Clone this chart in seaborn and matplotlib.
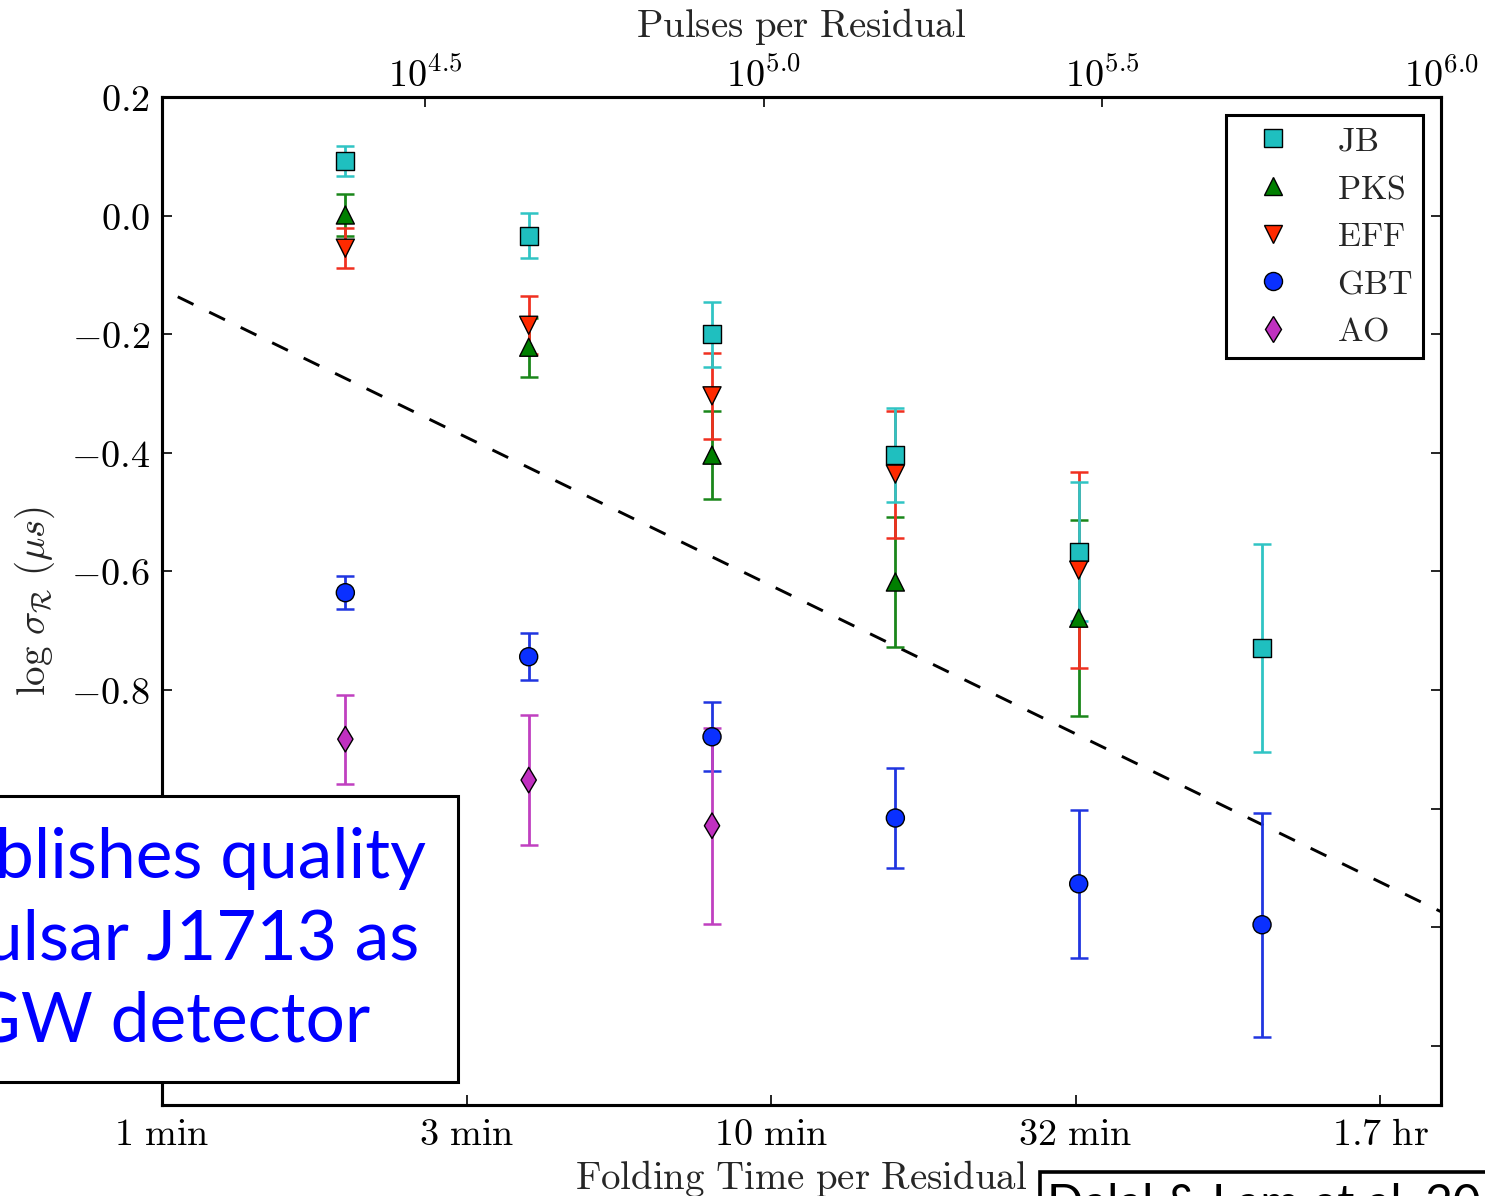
import numpy as np
import pandas as pd
import matplotlib
matplotlib.use("Agg")
import matplotlib.pyplot as plt
import seaborn as sns
from matplotlib.patches import Rectangle
from matplotlib.lines import Line2D
from matplotlib.ticker import FixedLocator, FuncFormatter, NullLocator

# Folding time per residual (minutes)
fold_min = [2, 4, 8, 16, 32, 64]

# log10 of residual rms (microseconds) and 1-sigma uncertainties per telescope
jb_val = [0.092, -0.034, -0.200, -0.404, -0.567, -0.729]
jb_err = [0.026, 0.038, 0.055, 0.079, 0.117, 0.175]
pks_val = [0.001, -0.222, -0.404, -0.618, -0.679]
pks_err = [0.036, 0.050, 0.074, 0.110, 0.165]
eff_val = [-0.055, -0.185, -0.304, -0.436, -0.598]
eff_err = [0.034, 0.049, 0.072, 0.107, 0.165]
gbt_val = [-0.636, -0.744, -0.879, -1.016, -1.127, -1.196]
gbt_err = [0.028, 0.040, 0.058, 0.084, 0.125, 0.189]
ao_val = [-0.883, -0.952, -1.029]
ao_err = [0.075, 0.110, 0.165]

stations = ["JB", "PKS", "EFF", "GBT", "AO"]
station_values = {"JB": (jb_val, jb_err), "PKS": (pks_val, pks_err),
                  "EFF": (eff_val, eff_err), "GBT": (gbt_val, gbt_err),
                  "AO": (ao_val, ao_err)}

# white-noise expectation: slope -1/2 in log-log
ref_intercept = -0.124
ref_slope = -0.5

x_tick_min = [1, 10 ** 0.5, 10, 10 ** 1.5, 100]
x_tick_labels = ["1 min", "3 min", "10 min", "32 min", "1.7 hr"]
pulse_ticks = [10 ** 4.5, 10 ** 5.0, 10 ** 5.5, 10 ** 6.0]
pulse_tick_labels = ["4.5", "5.0", "5.5", "6.0"]
y_ticks = [-1.4, -1.2, -1.0, -0.8, -0.6, -0.4, -0.2, 0.0, 0.2]

colors = {"JB": "#1fbfbf", "PKS": "#007f00", "EFF": "#ff2a00",
          "GBT": "#0a30ff", "AO": "#c030c0"}
err_colors = {"JB": "#30c4c4", "PKS": "#1a861a", "EFF": "#f03020",
              "GBT": "#2035e0", "AO": "#c040c0"}
markers = {"JB": "s", "PKS": "^", "EFF": "v", "GBT": "o", "AO": "d"}

rows = []
for name in stations:
    vals, errs = station_values[name]
    for t, v, e in zip(fold_min, vals, errs):
        rows.append({"station": name, "minutes": t, "logsig": v, "err": e})
df = pd.DataFrame(rows)

sns.set_style("ticks")
plt.rcParams.update({
    "font.family": ["DejaVu Serif"],
    "mathtext.fontset": "cm",
    "axes.linewidth": 2.2,
    "axes.edgecolor": "black",
})

W, H = 1485, 1196
fig = plt.figure(figsize=(W / 100, H / 100), dpi=100)
fig.patch.set_facecolor("white")
ax = fig.add_axes([162 / W, 1 - 1105 / H, 1279 / W, 1008 / H])
ax.set_xscale("log")

# error bars, drawn so JB sits over PKS/EFF and AO over GBT
for name in ["PKS", "EFF", "JB", "GBT", "AO"]:
    d = df[df.station == name]
    ax.errorbar(d.minutes, d.logsig, yerr=d.err, fmt="none",
                ecolor=err_colors[name], elinewidth=2.0, capsize=6.2,
                capthick=1.8, zorder=2)

sns.scatterplot(data=df, x="minutes", y="logsig", hue="station",
                style="station", palette=colors, markers=markers,
                hue_order=stations, style_order=stations,
                s=13 ** 2, edgecolor="black", linewidth=1.0,
                legend=False, ax=ax, zorder=3)

tt = np.array([1.0, 10 ** 2.1])
ax.plot(tt, ref_intercept + ref_slope * np.log10(tt), color="black",
        lw=2.1, linestyle=(6, (6, 6)), zorder=1.5)

ax.set_xlim(1.0, 10 ** 2.1)
ax.set_ylim(-1.5, 0.2)
ax.xaxis.set_major_locator(FixedLocator(x_tick_min))
ax.xaxis.set_minor_locator(NullLocator())
ax.set_xticklabels([r"$\mathrm{%s}$" % s.replace(" ", r"\ ") for s in x_tick_labels])
ax.yaxis.set_major_locator(FixedLocator(y_ticks))
ax.yaxis.set_major_formatter(FuncFormatter(lambda v, p: r"$%.1f$" % (round(v, 1) + 0.0)))
ax.tick_params(axis="both", which="major", direction="in", length=7,
               width=1.2, labelsize=27.5, pad=8.5, colors="black")
ax.tick_params(axis="y", left=True, right=True)
ax.tick_params(axis="x", bottom=True, top=False)

ax.set_xlabel(r"$\mathrm{Folding\ Time\ per\ Residual}$", fontsize=28)
ax.xaxis.set_label_coords(0.4996, -0.053)
ax.set_ylabel(r"$\log\,\sigma_{\mathcal{R}}\ (\mu s)$", fontsize=28)
ax.yaxis.set_label_coords(-0.082, 0.5)

# top axis: pulses per residual
ax2 = ax.twiny()
ax2.set_xscale("log")
ax2.set_xlim(10 ** 4.112, 10 ** 6.0)
ax2.xaxis.set_major_locator(FixedLocator(pulse_ticks))
ax2.xaxis.set_minor_locator(NullLocator())
ax2.set_xticklabels([r"$10^{%s}$" % s for s in pulse_tick_labels])
ax2.tick_params(axis="x", which="major", direction="in", length=7,
                width=1.2, labelsize=27.5, pad=1.5, colors="black")
ax2.set_xlabel(r"$\mathrm{Pulses\ per\ Residual}$", fontsize=28)
ax2.xaxis.set_label_coords(0.4996, 1.060)
for sp in ax2.spines.values():
    sp.set_linewidth(2.2)

handles = [Line2D([], [], marker=markers[n], linestyle="none", markersize=13,
                  markerfacecolor=colors[n], markeredgecolor="black",
                  markeredgewidth=1.0) for n in stations]
leg = ax2.legend(handles, [r"$\mathrm{%s}$" % n for n in stations],
                 loc="upper right", bbox_to_anchor=(0.986, 0.982),
                 borderaxespad=0, fontsize=24.5, handlelength=2.2,
                 handletextpad=0.77, labelspacing=0.46, borderpad=0.3,
                 fancybox=False, edgecolor="black", framealpha=1)
leg.get_frame().set_linewidth(2.2)

# callout boxes
fig.add_artist(Rectangle((-10 / W, 1 - 1082 / H), 468 / W, 286 / H,
                         transform=fig.transFigure, facecolor="white",
                         edgecolor="black", lw=2.2, zorder=10))
for txt, xpx, ypx in [("blishes quality", -5, 878),
                      ("ulsar J1713 as", -16, 960),
                      ("GW detector", -30, 1042)]:
    fig.text(xpx / W, 1 - ypx / H, txt, color="#0000ff", fontsize=50,
             family="Lato", ha="left", va="baseline", zorder=11)

fig.add_artist(Rectangle((1040 / W, -0.05), 0.4, 0.05 + (H - 1172) / H,
                         transform=fig.transFigure, facecolor="white",
                         edgecolor="black", lw=2.6, zorder=10))
fig.text(1047 / W, 1 - 1219 / H, "Dalal & Lam et al. 20", color="black",
         fontsize=34.5, family="Lato", ha="left", va="baseline", zorder=11)

fig.savefig("out.png", dpi=100, facecolor="white")
